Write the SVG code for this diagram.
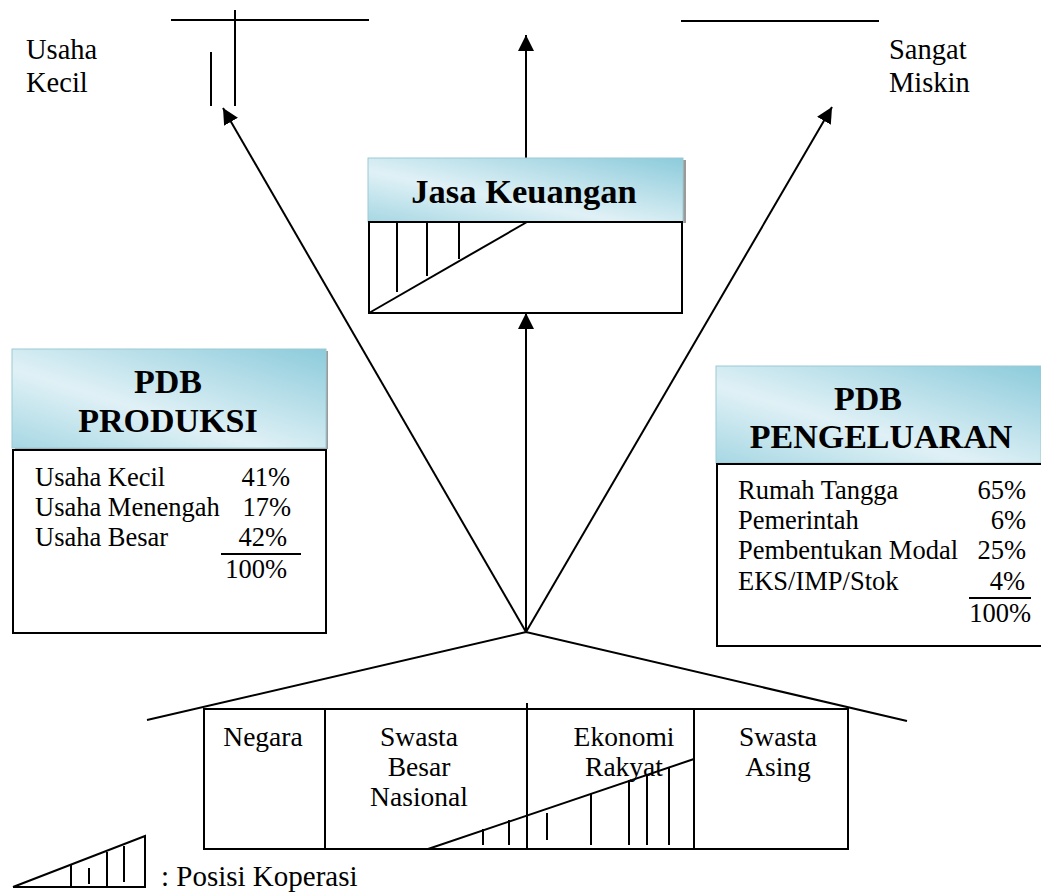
<svg xmlns="http://www.w3.org/2000/svg" width="1041" height="895" viewBox="0 0 1041 895">
  <style>
    .ln { stroke: #000; stroke-width: 2; fill: none; }
    .box { stroke: #000; stroke-width: 2; fill: #fff; }
    .hdr { fill: url(#hdrFill); stroke: #9cc9d4; stroke-width: 1; }
    .shadow { fill: #9a9a9a; }
    .title { font-family: "Liberation Serif", "Times New Roman", serif; font-weight: bold; font-size: 34px; fill: #000; text-anchor: middle; }
    .txt { font-family: "Liberation Serif", "Times New Roman", serif; font-size: 26.5px; fill: #000; }
    .hs { font-family: "Liberation Serif", "Times New Roman", serif; font-size: 27.5px; fill: #000; text-anchor: middle; }
    .big { font-family: "Liberation Serif", "Times New Roman", serif; font-size: 28.5px; fill: #000; }
    .end { text-anchor: end; }
  </style>
  <defs>
    <linearGradient id="hdrFill" x1="0" y1="1" x2="1" y2="0">
      <stop offset="0" stop-color="#a6d7e3"/>
      <stop offset="0.4" stop-color="#e0f1f6"/>
      <stop offset="1" stop-color="#8ccbdb"/>
    </linearGradient>
    <marker id="arrow" markerUnits="userSpaceOnUse" markerWidth="18" markerHeight="18" refX="16" refY="8" orient="auto">
      <path d="M0,0 L16,8 L0,16 z" fill="#000"/>
    </marker>
  </defs>

  <rect width="1041" height="895" fill="#fff"/>

  <!-- top decorations and corner labels -->
  <g id="top-left">
    <line class="ln" x1="171" y1="20" x2="369" y2="20"/>
    <line class="ln" x1="235" y1="10" x2="235" y2="106"/>
    <line class="ln" x1="211" y1="52" x2="211" y2="106"/>
    <text class="big" x="26" y="59">Usaha</text>
    <text class="big" x="26" y="92">Kecil</text>
  </g>
  <g id="top-right">
    <line class="ln" x1="681" y1="21" x2="879" y2="21"/>
    <text class="big" x="889" y="59">Sangat</text>
    <text class="big" x="889" y="92">Miskin</text>
  </g>

  <!-- connectors -->
  <g id="connectors">
    <line class="ln" x1="526" y1="632" x2="223" y2="108" marker-end="url(#arrow)"/>
    <line class="ln" x1="526" y1="632" x2="832" y2="107" marker-end="url(#arrow)"/>
    <line class="ln" x1="526" y1="632" x2="526" y2="313" marker-end="url(#arrow)"/>
    <line class="ln" x1="526" y1="158" x2="526" y2="35" marker-end="url(#arrow)"/>
  </g>

  <!-- Jasa Keuangan -->
  <g id="jasa-keuangan">
    <rect class="shadow" x="371" y="160" width="315" height="63"/>
    <rect class="hdr" x="368" y="158" width="315" height="64"/>
    <text class="title" x="524" y="203" style="font-size:34.5px">Jasa Keuangan</text>
    <rect class="box" x="369" y="222" width="313" height="91"/>
    <line class="ln" x1="369" y1="313" x2="527" y2="222"/>
    <line class="ln" x1="397" y1="222" x2="397" y2="292"/>
    <line class="ln" x1="427" y1="222" x2="427" y2="276"/>
    <line class="ln" x1="459" y1="222" x2="459" y2="259"/>
  </g>

  <!-- PDB Produksi -->
  <g id="pdb-produksi">
    <rect class="shadow" x="15" y="351" width="313" height="98"/>
    <rect class="hdr" x="12" y="349" width="314" height="99"/>
    <text class="title" x="168" y="393">PDB</text>
    <text class="title" x="168" y="432">PRODUKSI</text>
    <rect class="box" x="13" y="450" width="313" height="183"/>
    <text class="txt" x="35" y="486">Usaha Kecil</text>
    <text class="txt" x="35" y="516">Usaha Menengah</text>
    <text class="txt" x="35" y="546">Usaha Besar</text>
    <text class="txt end" x="290" y="486">41%</text>
    <text class="txt end" x="291" y="516">17%</text>
    <text class="txt end" x="287" y="546">42%</text>
    <line class="ln" x1="221" y1="554" x2="301" y2="554"/>
    <text class="txt end" x="287" y="578">100%</text>
  </g>

  <!-- PDB Pengeluaran -->
  <g id="pdb-pengeluaran">
    <rect class="shadow" x="719" y="368" width="324" height="96"/>
    <rect class="hdr" x="716" y="366" width="325" height="97"/>
    <text class="title" x="868" y="410">PDB</text>
    <text class="title" x="881" y="448">PENGELUARAN</text>
    <rect class="box" x="717" y="464" width="330" height="182"/>
    <text class="txt" x="738" y="499">Rumah Tangga</text>
    <text class="txt" x="738" y="529">Pemerintah</text>
    <text class="txt" x="738" y="559">Pembentukan Modal</text>
    <text class="txt" x="738" y="590">EKS/IMP/Stok</text>
    <text class="txt end" x="1026" y="499">65%</text>
    <text class="txt end" x="1026" y="529">6%</text>
    <text class="txt end" x="1026" y="559">25%</text>
    <text class="txt end" x="1025" y="590">4%</text>
    <line class="ln" x1="969" y1="598" x2="1031" y2="598"/>
    <text class="txt end" x="1031" y="622">100%</text>
  </g>

  <!-- house of economic sectors -->
  <g id="house">
    <polyline class="ln" points="147,720 526,632 907,721"/>
    <rect class="ln" x="204" y="709" width="644" height="140"/>
    <line class="ln" x1="325" y1="709" x2="325" y2="849"/>
    <line class="ln" x1="527" y1="703" x2="527" y2="849"/>
    <line class="ln" x1="694" y1="709" x2="694" y2="849"/>
    <text class="hs" x="263" y="746">Negara</text>
    <text class="hs" x="419" y="746">Swasta</text>
    <text class="hs" x="419" y="776">Besar</text>
    <text class="hs" x="419" y="806">Nasional</text>
    <text class="hs" x="624" y="746">Ekonomi</text>
    <text class="hs" x="624" y="776">Rakyat</text>
    <text class="hs" x="778" y="746">Swasta</text>
    <text class="hs" x="778" y="776">Asing</text>
    <!-- cooperative share wedge -->
    <line class="ln" x1="428" y1="849" x2="694" y2="759"/>
    <line class="ln" x1="483" y1="829" x2="483" y2="845"/>
    <line class="ln" x1="509" y1="820" x2="509" y2="845"/>
    <line class="ln" x1="547" y1="813" x2="547" y2="840"/>
    <line class="ln" x1="591" y1="793" x2="591" y2="845"/>
    <line class="ln" x1="629" y1="780" x2="629" y2="845"/>
    <line class="ln" x1="647" y1="775" x2="647" y2="845"/>
    <line class="ln" x1="669" y1="767" x2="669" y2="845"/>
  </g>

  <!-- legend -->
  <g id="legend">
    <polyline class="ln" points="13,887 145,887 145,836 13,887"/>
    <line class="ln" x1="71" y1="864" x2="71" y2="887"/>
    <line class="ln" x1="89" y1="868" x2="89" y2="884"/>
    <line class="ln" x1="107" y1="852" x2="107" y2="887"/>
    <line class="ln" x1="124" y1="846" x2="124" y2="882"/>
    <text class="txt" x="161" y="886" style="font-size:29px">: Posisi Koperasi</text>
  </g>
</svg>
